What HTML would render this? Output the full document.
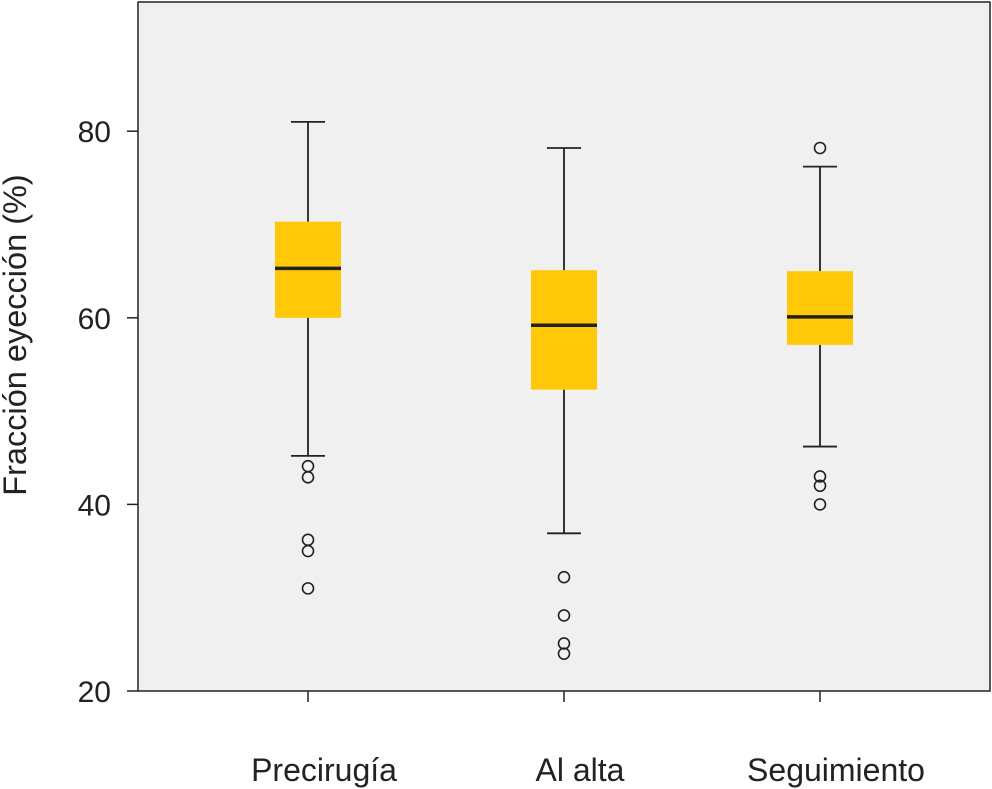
<!DOCTYPE html>
<html><head><meta charset="utf-8"><style>
html,body{margin:0;padding:0;background:#fff;}
svg{display:block;font-family:"Liberation Sans",Arial,sans-serif;}
</style></head><body>
<svg id="chart" width="992" height="789">
<rect x="138" y="2" width="852" height="689" fill="#f0f0f0" stroke="#222" stroke-width="1.5"/>
<text transform="translate(26,335) rotate(-90)" text-anchor="middle" font-size="32.5" fill="#222">Fracción eyección (%)</text>
<g id="yaxis"></g><g id="xaxis"></g><g id="boxes"></g>
</svg>
<script>
const categories=["Precirugía","Al alta","Seguimiento"];
const whiskerHigh=[81,78.2,76.2];
const q3=[70.3,65.1,65];
const median=[65.3,59.2,60.1];
const q1=[60,52.3,57.1];
const whiskerLow=[45.2,36.9,46.2];
const outliers=[[44.1,42.9,36.2,35,31],[32.2,28.1,25.1,24],[78.2,43,42,40]];
const yTicks=[20,40,60,80];
const NS="http://www.w3.org/2000/svg";
const y=v=>691-(v-20)*9.33;
const x=i=>308+i*256;
function mk(tag,attrs,parent){const e=document.createElementNS(NS,tag);for(const k in attrs)e.setAttribute(k,attrs[k]);parent.appendChild(e);return e;}
const ya=document.getElementById('yaxis'),xa=document.getElementById('xaxis'),bx=document.getElementById('boxes');
yTicks.forEach(t=>{
 const l=mk('line',{x1:127,x2:138,y1:y(t),y2:y(t),stroke:'#222','stroke-width':1.5},ya);
 
 
 const tx=mk('text',{x:111,y:y(t)+11,'text-anchor':'end','font-size':30,fill:'#222'},ya);
 tx.textContent=t;
 
 
});
categories.forEach((c,i)=>{
 const cx=x(i);
 const tk=mk('line',{x1:cx,x2:cx,y1:691,y2:702,stroke:'#222','stroke-width':1.5},xa);
 
 
 const tx=mk('text',{x:cx+16,y:781,'text-anchor':'middle','font-size':32,fill:'#222'},xa);
 tx.textContent=c;
 
 
 const g=mk('g',{},bx);
 
 
 mk('line',{x1:cx,x2:cx,y1:y(whiskerHigh[i]),y2:y(q3[i]),stroke:'#222','stroke-width':1.8},g);
 mk('line',{x1:cx,x2:cx,y1:y(q1[i]),y2:y(whiskerLow[i]),stroke:'#222','stroke-width':1.8},g);
 mk('line',{x1:cx-17,x2:cx+17,y1:y(whiskerHigh[i]),y2:y(whiskerHigh[i]),stroke:'#222','stroke-width':1.8},g);
 mk('line',{x1:cx-17,x2:cx+17,y1:y(whiskerLow[i]),y2:y(whiskerLow[i]),stroke:'#222','stroke-width':1.8},g);
 mk('rect',{x:cx-33,y:y(q3[i]),width:66,height:y(q1[i])-y(q3[i]),fill:'#ffc907'},g);
 mk('line',{x1:cx-33,x2:cx+33,y1:y(median[i]),y2:y(median[i]),stroke:'#222','stroke-width':3.5},g);
 outliers[i].forEach(o=>{
  const c2=mk('circle',{cx:cx,cy:y(o),r:5.5,fill:'none',stroke:'#222','stroke-width':1.6},g);
  
  
 });
});
</script>
</body></html>
